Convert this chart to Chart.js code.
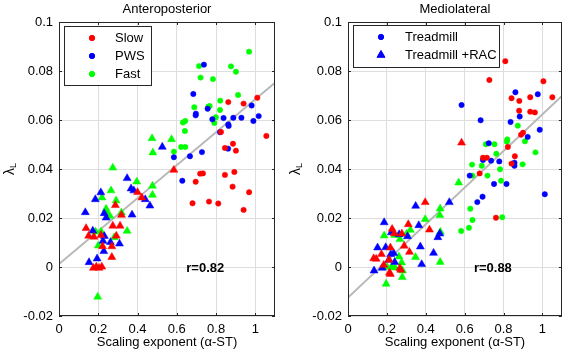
<!DOCTYPE html>
<html>
<head>
<meta charset="utf-8">
<script src="https://cdn.jsdelivr.net/npm/chart.js@4.4.0/dist/chart.umd.min.js"></script>
<style>
  html, body { margin: 0; padding: 0; background: #fff; }
  #wrap { position: relative; width: 567px; height: 353px; }
  canvas { position: absolute; top: 0; }
</style>
</head>
<body>
<div id="wrap">
  <canvas id="ap" width="283" height="353" style="left:0"></canvas>
  <canvas id="ml" width="284" height="353" style="left:283px"></canvas>
</div>
<script>
'use strict';

// ticks
const xTickValues = [0, 0.2, 0.4, 0.6, 0.8, 1];
const yTickValues = [-0.02, 0, 0.02, 0.04, 0.06, 0.08, 0.1];

// Anteroposterior - circles = treadmill, triangles = treadmill + RAC
const apSlowTm = [[0.862,0.0673],[0.940,0.0667],[1.010,0.0691],[0.825,0.0551],[1.056,0.0535],[0.845,0.0486],[0.886,0.0503],[0.901,0.0475],[0.719,0.0381],[0.733,0.0382],[0.845,0.0376],[0.893,0.0388],[0.696,0.0348],[0.884,0.0328],[0.680,0.0260],[0.764,0.0267],[0.811,0.0259],[0.968,0.0305],[0.940,0.0233]];
const apPwsTm = [[0.738,0.0826],[0.684,0.0706],[0.697,0.0626],[0.696,0.0619],[0.757,0.0646],[0.781,0.0603],[0.838,0.0608],[0.888,0.0609],[0.929,0.0609],[0.981,0.0659],[0.990,0.0596],[1.017,0.0616],[0.862,0.0582],[0.864,0.0576],[0.820,0.0550],[0.861,0.0483],[0.667,0.0452],[0.585,0.0448],[0.728,0.0469],[0.628,0.0352]];
const apFastTm = [[0.968,0.0879],[0.713,0.0820],[0.876,0.0819],[0.901,0.0797],[0.721,0.0773],[0.784,0.0767],[0.912,0.0702],[0.821,0.0679],[0.689,0.0652],[0.760,0.0654],[0.767,0.0657],[0.820,0.0641],[0.799,0.0611],[0.791,0.0588],[0.631,0.0590],[0.643,0.0596],[0.641,0.0555],[0.622,0.0490],[0.643,0.0490],[0.585,0.0471]];
const apSlowRac = [[0.585,0.0396],[0.400,0.0305],[0.422,0.0283],[0.287,0.0252],[0.318,0.0212],[0.274,0.0168],[0.311,0.0168],[0.138,0.0158],[0.151,0.0127],[0.178,0.0123],[0.214,0.0130],[0.292,0.0127],[0.222,0.0084],[0.269,0.0084],[0.269,0.0040],[0.175,-0.0004],[0.190,0.0001],[0.204,-0.0004],[0.218,0.0001]];
const apPwsRac = [[0.526,0.0490],[0.347,0.0362],[0.367,0.0320],[0.381,0.0312],[0.213,0.0304],[0.439,0.0276],[0.185,0.0276],[0.463,0.0250],[0.134,0.0223],[0.230,0.0219],[0.372,0.0213],[0.240,0.0201],[0.172,0.0148],[0.231,0.0126],[0.224,0.0106],[0.262,0.0101],[0.308,0.0095],[0.228,0.0064],[0.194,0.0034],[0.153,0.0019]];
const apFastRac = [[0.474,0.0525],[0.573,0.0521],[0.478,0.0467],[0.274,0.0405],[0.396,0.0348],[0.476,0.0331],[0.265,0.0312],[0.476,0.0294],[0.219,0.0283],[0.291,0.0271],[0.240,0.0237],[0.240,0.0226],[0.318,0.0222],[0.259,0.0208],[0.347,0.0147],[0.186,0.0144],[0.214,0.0144],[0.281,0.0121],[0.200,0.0087],[0.197,-0.0122]];
const apFit = [[0, 0.0012], [1.1, 0.0752]];

// Mediolateral
const mlSlowTm = [[0.809,0.0840],[0.727,0.0763],[1.005,0.0758],[0.841,0.0689],[0.881,0.0678],[0.937,0.0693],[1.051,0.0693],[0.880,0.0638],[0.937,0.0634],[0.961,0.0631],[0.900,0.0548],[0.890,0.0540],[0.822,0.0490],[0.858,0.0452],[0.694,0.0446],[0.714,0.0446],[0.841,0.0422],[0.677,0.0382],[0.761,0.0201]];
const mlPwsTm = [[0.584,0.0661],[0.861,0.0713],[0.976,0.0705],[0.883,0.0614],[0.682,0.0599],[0.836,0.0592],[0.986,0.0560],[0.924,0.0531],[0.724,0.0505],[0.694,0.0437],[0.736,0.0434],[0.778,0.0431],[0.856,0.0426],[0.856,0.0413],[0.626,0.0373],[0.751,0.0339],[0.815,0.0339],[1.012,0.0297],[0.692,0.0287],[0.665,0.0265]];
const mlFastTm = [[0.873,0.0577],[0.910,0.0513],[0.819,0.0521],[0.817,0.0511],[0.709,0.0501],[0.753,0.0501],[0.763,0.0462],[0.964,0.0468],[0.898,0.0419],[0.638,0.0418],[0.688,0.0413],[0.782,0.0399],[0.640,0.0373],[0.717,0.0373],[0.787,0.0352],[0.629,0.0238],[0.640,0.0192],[0.793,0.0203],[0.622,0.0160],[0.582,0.0147]];
const mlSlowRac = [[0.584,0.0507],[0.397,0.0264],[0.310,0.0174],[0.227,0.0155],[0.419,0.0152],[0.277,0.0136],[0.238,0.0137],[0.289,0.0086],[0.218,0.0079],[0.316,0.0061],[0.172,0.0052],[0.145,0.0033],[0.132,0.0035],[0.211,0.0029],[0.267,-0.0005],[0.271,-0.0012],[0.213,-0.0024],[0.218,-0.0029],[0.184,0.0008]];
const mlPwsRac = [[0.521,0.0264],[0.348,0.0249],[0.186,0.0182],[0.364,0.0170],[0.223,0.0141],[0.263,0.0133],[0.306,0.0125],[0.472,0.0136],[0.462,0.0121],[0.372,0.0083],[0.152,0.0079],[0.194,0.0080],[0.235,0.0056],[0.220,0.0052],[0.440,0.0057],[0.379,0.0011],[0.176,-0.0004],[0.134,-0.0015],[0.210,0.0029],[0.240,0.0020]];
const mlFastRac = [[0.569,0.0344],[0.474,0.0238],[0.472,0.0211],[0.397,0.0195],[0.186,0.0128],[0.240,0.0130],[0.321,0.0151],[0.301,0.0135],[0.475,0.0143],[0.267,0.0113],[0.262,0.0042],[0.347,0.0040],[0.474,0.0020],[0.276,0.0018],[0.201,0.0000],[0.224,0.0000],[0.242,-0.0003],[0.281,-0.0015],[0.279,-0.0042],[0.196,-0.0069]];
const mlFit = [[0, -0.0125], [1.1, 0.0698]];

const FONT = '"Liberation Sans", Arial, sans-serif';
const RED = '#ff0000', BLUE = '#0000ff', GREEN = '#00ff00';

function pts(arr) {
    return arr.map(p => ({ x: p[0], y: p[1] }));
}

function marks(arr, color, style) {
    return {
        type: 'scatter',
        data: pts(arr),
        backgroundColor: color,
        borderColor: color,
        borderWidth: 0.5,
        pointStyle: style,
        pointRadius: style === 'triangle' ? 4.6 : 2.7,
        pointHoverRadius: style === 'triangle' ? 4.6 : 2.7,
        order: 1
    };
}

// MATLAB look: box, inward ticks, title, labels, legend, r text
const matlabPlugin = {
    id: 'matlab',
    afterDraw(chart, args, o) {
        const ctx = chart.ctx;
        const a = chart.chartArea;
        const xs = chart.scales.x, ys = chart.scales.y;
        ctx.save();
        ctx.strokeStyle = '#262626';
        ctx.lineWidth = 1;
        ctx.beginPath();
        xTickValues.forEach(v => {
            const px = Math.round(xs.getPixelForValue(v)) + 0.5;
            ctx.moveTo(px, a.bottom); ctx.lineTo(px, a.bottom - 3);
            ctx.moveTo(px, a.top); ctx.lineTo(px, a.top + 3);
        });
        yTickValues.forEach(v => {
            const py = Math.round(ys.getPixelForValue(v)) + 0.5;
            ctx.moveTo(a.left, py); ctx.lineTo(a.left + 3, py);
            ctx.moveTo(a.right, py); ctx.lineTo(a.right - 3, py);
        });
        ctx.stroke();
        ctx.strokeRect(Math.round(a.left) + 0.5, Math.round(a.top) + 0.5,
            Math.round(a.right - a.left) - 1, Math.round(a.bottom - a.top) - 1);

        const cx = (a.left + a.right) / 2;
        ctx.fillStyle = '#000';
        ctx.textAlign = 'center';
        ctx.textBaseline = 'middle';
        ctx.font = '13px ' + FONT;
        ctx.fillText(o.title, cx, 9);
        ctx.fillText('Scaling exponent (\u03b1-ST)', cx, 342);

        // y label: lambda with subscript L
        ctx.save();
        ctx.translate(o.yLabelX, (a.top + a.bottom) / 2);
        ctx.rotate(-Math.PI / 2);
        ctx.textAlign = 'left';
        ctx.font = '14px ' + FONT;
        const w1 = ctx.measureText('\u03bb').width;
        ctx.font = '9px ' + FONT;
        const w2 = ctx.measureText('L').width;
        const sx = -(w1 + w2) / 2;
        ctx.font = '14px ' + FONT;
        ctx.fillText('\u03bb', sx, 0);
        ctx.font = '9px ' + FONT;
        ctx.fillText('L', sx + w1, 4);
        ctx.restore();

        // r value
        ctx.font = 'bold 13px ' + FONT;
        ctx.fillText(o.rText, xs.getPixelForValue(0.745), ys.getPixelForValue(0) + 1);

        // legend
        const L = o.legend;
        ctx.fillStyle = '#fff';
        ctx.fillRect(L.x, L.y, L.w, L.h);
        ctx.strokeStyle = '#262626';
        ctx.strokeRect(L.x + 0.5, L.y + 0.5, L.w, L.h);
        ctx.font = '13px ' + FONT;
        ctx.textAlign = 'left';
        L.items.forEach((it, i) => {
            const yy = L.y + 12 + i * 18;
            ctx.fillStyle = it.color;
            ctx.strokeStyle = it.color;
            Chart.helpers.drawPoint(ctx, {
                pointStyle: it.style, rotation: 0, borderWidth: 0.5,
                radius: it.style === 'triangle' ? 4.6 : 2.7
            }, L.x + L.markX, yy);
            ctx.fillStyle = '#000';
            ctx.fillText(it.label, L.x + L.textX, yy);
        });
        ctx.restore();
    }
};

function makeChart(id, sets, fit, yAxisWidth, padRight, opts) {
    const datasets = sets.map(s => marks(s[0], s[1], s[2]));
    datasets.push({
        type: 'line',
        data: pts(fit),
        borderColor: '#b8b8b8',
        borderWidth: 2,
        pointRadius: 0,
        fill: false,
        order: 5
    });
    return new Chart(document.getElementById(id), {
        type: 'scatter',
        data: { datasets },
        options: {
            responsive: false,
            animation: false,
            events: [],
            layout: { padding: { left: 0, right: padRight, top: 22, bottom: 0 } },
            plugins: { legend: { display: false }, tooltip: { enabled: false }, matlab: opts },
            scales: {
                x: {
                    type: 'linear', min: 0, max: 1.1,
                    afterBuildTicks: s => { s.ticks = xTickValues.map(v => ({ value: v })); },
                    afterFit: s => { s.height = 37; },
                    grid: { color: '#dedede', drawTicks: false },
                    border: { display: false },
                    ticks: { padding: 6, color: '#000', font: { family: FONT, size: 13 },
                        callback: v => String(+v.toFixed(2)) }
                },
                y: {
                    type: 'linear', min: -0.02, max: 0.1,
                    afterBuildTicks: s => { s.ticks = yTickValues.map(v => ({ value: v })); },
                    afterFit: s => { s.width = yAxisWidth; },
                    grid: { color: '#dedede', drawTicks: false },
                    border: { display: false },
                    ticks: { padding: 6, color: '#000', font: { family: FONT, size: 13 },
                        callback: v => String(+v.toFixed(2)) }
                }
            }
        },
        plugins: [matlabPlugin]
    });
}

makeChart('ap', [
    [apSlowTm, RED, 'circle'], [apPwsTm, BLUE, 'circle'], [apFastTm, GREEN, 'circle'],
    [apSlowRac, RED, 'triangle'], [apPwsRac, BLUE, 'triangle'], [apFastRac, GREEN, 'triangle']
], apFit, 59, 8, {
    title: 'Anteroposterior', rText: 'r=0.82', yLabelX: 10,
    legend: { x: 64, y: 26, w: 87, h: 59, markX: 28, textX: 51,
        items: [
            { label: 'Slow', color: RED, style: 'circle' },
            { label: 'PWS', color: BLUE, style: 'circle' },
            { label: 'Fast', color: GREEN, style: 'circle' }
        ] }
});

makeChart('ml', [
    [mlSlowTm, RED, 'circle'], [mlPwsTm, BLUE, 'circle'], [mlFastTm, GREEN, 'circle'],
    [mlSlowRac, RED, 'triangle'], [mlPwsRac, BLUE, 'triangle'], [mlFastRac, GREEN, 'triangle']
], mlFit, 65, 3, {
    title: 'Mediolateral', rText: 'r=0.88', yLabelX: 13,
    legend: { x: 70, y: 25, w: 146, h: 42, markX: 28, textX: 52,
        items: [
            { label: 'Treadmill', color: BLUE, style: 'circle' },
            { label: 'Treadmill +RAC', color: BLUE, style: 'triangle' }
        ] }
});
</script>
</body>
</html>
